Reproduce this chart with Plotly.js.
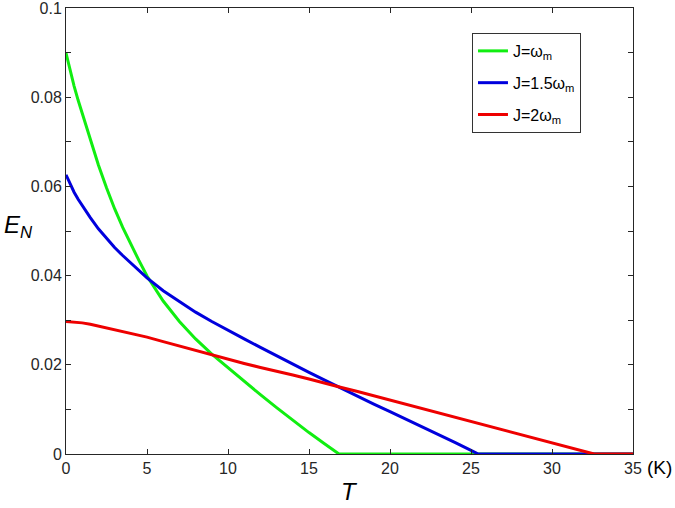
<!DOCTYPE html>
<html>
<head>
<meta charset="utf-8">
<script src="https://cdn.plot.ly/plotly-3.0.1.min.js"></script>
<style>
  body { margin: 0; background: #fff; }
  #plot { width: 675px; height: 508px; }
</style>
</head>
<body>
<div id="plot"></div>
<script>
// temperature T (K) and entanglement E_N for each coupling J
const tGreen = [0, 0.25, 0.5, 0.75, 1, 1.5, 2, 2.5, 3, 3.5, 4, 4.5, 5, 6, 7, 8, 9, 10, 11, 12, 13, 14, 15, 16, 16.85, 20, 25, 30, 35];
const eGreen = [0.0899, 0.0860, 0.0825, 0.0793, 0.0763, 0.0703, 0.0648, 0.0597, 0.0550, 0.0508, 0.0470, 0.0434, 0.0399, 0.0343, 0.0297, 0.0258, 0.0224, 0.0193, 0.0163, 0.0133, 0.0104, 0.0075, 0.0048, 0.0022, 0, 0, 0, 0, 0];

const tBlue = [0, 0.25, 0.5, 0.75, 1, 1.5, 2, 2.5, 3, 3.5, 4, 5, 6, 7, 8, 9, 10, 11, 12, 13, 14, 15, 16, 17, 18, 19, 20, 21, 22, 23, 24, 25, 25.45, 30, 35];
const eBlue = [0.0626, 0.0605, 0.0587, 0.0571, 0.0557, 0.0530, 0.0505, 0.0483, 0.0463, 0.0445, 0.0428, 0.0395, 0.0366, 0.0341, 0.0318, 0.0297, 0.0277, 0.0258, 0.0239, 0.0220, 0.0201, 0.0183, 0.0165, 0.0147, 0.0129, 0.0112, 0.0095, 0.0078, 0.0061, 0.0044, 0.0026, 0.0008, 0, 0, 0];

const tRed = [0, 0.5, 1, 1.5, 2, 3, 4, 5, 6, 7, 8, 9, 10, 11, 12, 13, 14, 15, 16, 17, 18, 20, 22, 24, 25, 26, 28, 30, 32, 32.6, 35];
const eRed = [0.0297, 0.0296, 0.0294, 0.0291, 0.0287, 0.0279, 0.0271, 0.0262, 0.0252, 0.0242, 0.0232, 0.0223, 0.0213, 0.0203, 0.0194, 0.0186, 0.0177, 0.0168, 0.0158, 0.0149, 0.0140, 0.0121, 0.0102, 0.0083, 0.0073, 0.0064, 0.0045, 0.0026, 0.0007, 0, 0];

const yTicks = [0, 0.02, 0.04, 0.06, 0.08, 0.1];
const yTickText = ["0", "0.02", "0.04", "0.06", "0.08", "0.1"];

const sub = (s) => "<sub>" + s + "</sub>";
const names = ["J=ω" + sub("m"), "J=1.5ω" + sub("m"), "J=2ω" + sub("m")];
const colors = ["#11ee11", "#0000dd", "#ee0000"];

const series = [[tGreen, eGreen], [tBlue, eBlue], [tRed, eRed]];
const traces = series.map((s, i) => ({
  x: s[0],
  y: s[1],
  type: "scatter",
  mode: "lines",
  name: names[i],
  legendgroup: "g" + i,
  line: { color: colors[i], width: 3 },
}));

const fam = "Arial";
const axisFont = { family: fam, size: 16, color: "#262626" };

Plotly.newPlot("plot", traces, {
  width: 675,
  height: 508,
  margin: { l: 66, r: 42, t: 8, b: 54 },
  font: { family: fam, size: 16, color: "#262626" },
  paper_bgcolor: "#fff",
  plot_bgcolor: "#fff",
  showlegend: true,
  legend: {
    x: 0.716, y: 0.944, xanchor: "left", yanchor: "top",
    bordercolor: "#333", borderwidth: 1, bgcolor: "#fff",
    font: { family: fam, size: 16, color: "#000" },
    tracegroupgap: 8,
    traceorder: "grouped",
  },
  xaxis: {
    range: [0, 35], dtick: 5, tick0: 0,
    ticks: "inside", ticklen: 5, tickcolor: "#262626",
    showline: true, linecolor: "#262626", linewidth: 1, mirror: "ticks",
    showgrid: false, zeroline: false,
    tickfont: axisFont, ticklabeloverflow: "allow",
  },
  yaxis: {
    range: [0, 0.1],
    tickmode: "array", tickvals: yTicks, ticktext: yTickText,
    ticks: "inside", ticklen: 5, tickcolor: "#262626",
    minor: { dtick: 0.01, tick0: 0, ticks: "inside", ticklen: 5, tickcolor: "#262626", showgrid: false },
    showline: true, linecolor: "#262626", linewidth: 1, mirror: "ticks",
    showgrid: false, zeroline: false,
    tickfont: axisFont, ticklabeloverflow: "allow",
  },
  annotations: [
    {
      text: "<i>T</i>", xref: "paper", yref: "paper", x: 0.5, y: -0.085,
      xanchor: "center", yanchor: "middle", showarrow: false,
      font: { family: fam, size: 24, color: "#000" },
    },
    {
      text: "(K)", xref: "paper", yref: "paper", x: 1.022, y: -0.03,
      xanchor: "left", yanchor: "middle", showarrow: false,
      font: { family: fam, size: 19, color: "#000" },
    },
    {
      text: "<i>E</i><sub><i>N</i></sub>", xref: "paper", yref: "paper", x: -0.112, y: 0.51,
      xanchor: "left", yanchor: "middle", showarrow: false,
      font: { family: fam, size: 24, color: "#000" },
    },
  ],
}, { displayModeBar: false });
</script>
</body>
</html>
